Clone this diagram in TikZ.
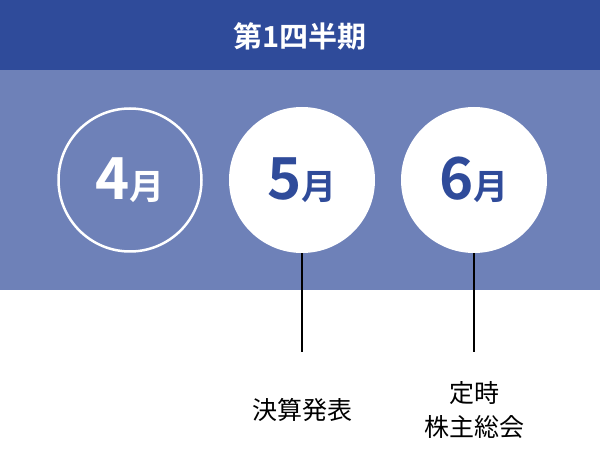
\documentclass[tikz,border=0pt]{standalone}
\usepackage{fontspec}
\newfontfamily\cjk{Noto Sans CJK JP}
\newfontfamily\cjkb{Noto Sans CJK JP Bold}
\definecolor{dark}{HTML}{2F4B9A}
\definecolor{band}{HTML}{6E81B8}
\begin{document}
\begin{tikzpicture}[x=1pt,y=-1pt,
  month/.style={circle,minimum size=146pt,inner sep=0pt,font=\cjkb},
  lbl/.style={font=\cjk\fontsize{25}{34}\selectfont,align=center,text=black}]
\useasboundingbox (0,0) rectangle (600,454);
\fill[white] (0,0) rectangle (600,454);
\fill[dark] (0,0) rectangle (600,70);
\fill[band] (0,70) rectangle (600,290);
\node[font=\cjkb\fontsize{29}{32}\selectfont,text=white] (title) at (300,36) {第1四半期};
\node[month,draw=white,line width=2.5pt,minimum size=143pt,text=white] (m4) at (130,180) {\fontsize{58}{60}\selectfont 4\fontsize{35}{38}\selectfont 月};
\node[month,fill=white,text=dark] (m5) at (302,180) {\fontsize{58}{60}\selectfont 5\fontsize{35}{38}\selectfont 月};
\node[month,fill=white,text=dark] (m6) at (474,180) {\fontsize{58}{60}\selectfont 6\fontsize{35}{38}\selectfont 月};
\coordinate (e5) at (302,352);
\coordinate (e6) at (474,352);
\draw[line width=1.2pt] (m5.south) -- (e5);
\draw[line width=1.2pt] (m6.south) -- (e6);
\node[lbl] (l5) at (302,410) {決算発表};
\node[lbl] (l6) at (474,410) {定時\\株主総会};
\end{tikzpicture}
\end{document}
